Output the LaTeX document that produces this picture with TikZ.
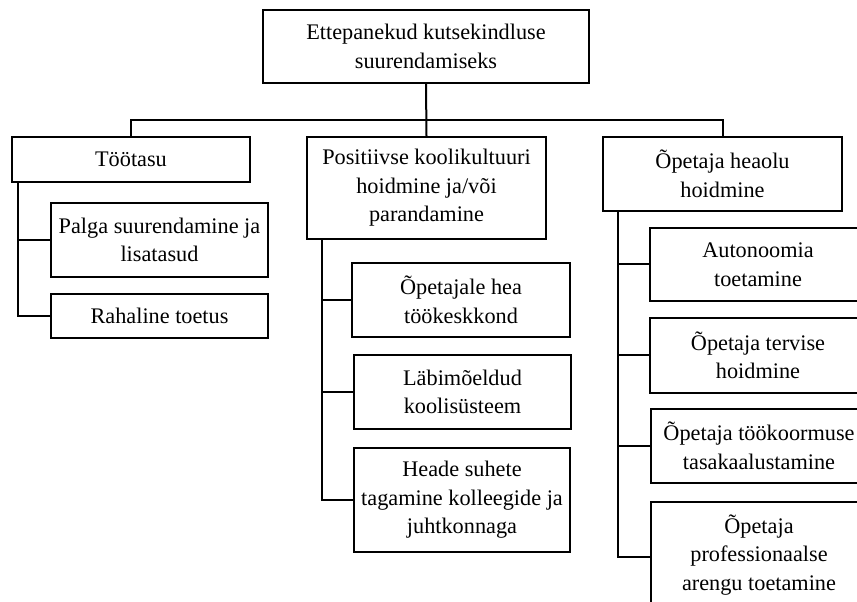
\documentclass[tikz,border=0pt]{standalone}
\usepackage{fontspec}
\setmainfont{Liberation Serif}
\begin{document}
\begin{tikzpicture}[x=0.75pt,y=-0.75pt,
  box/.style={draw, line width=1.5pt, align=center, inner sep=0pt,
    font=\fontsize{16.7}{21.4}\selectfont},
  link/.style={line width=1.5pt}]
\useasboundingbox (0,0) rectangle (857,602);
\clip (0,0) rectangle (857,602);
% top
\node[box, minimum width=244.5pt, minimum height=54.75pt] (top) at (426,46.5) {Ettepanekud kutsekindluse\\suurendamiseks};
% level 1
\node[box, minimum width=178.5pt, minimum height=33.75pt] (t1) at (131,159.5) {Töötasu};
\node[box, minimum width=179.25pt, minimum height=76.5pt] (t2) at (426.5,188) {Positiivse koolikultuuri\\hoidmine ja/või\\parandamine};
\node[box, minimum width=179.25pt, minimum height=55.5pt] (t3) at (722.5,174) {Õpetaja heaolu\\hoidmine};
% level 2 left
\node[box, minimum width=162.75pt, minimum height=55.5pt] (a1) at (159.5,240) {Palga suurendamine ja\\lisatasud};
\node[box, minimum width=162.75pt, minimum height=33pt] (a2) at (159.5,316) {Rahaline toetus};
% level 2 middle
\node[box, minimum width=163.5pt, minimum height=55.5pt] (b1) at (461,300) {Õpetajale hea\\töökeskkond};
\node[box, minimum width=162.75pt, minimum height=54.75pt] (b2) at (462.5,392) {Läbimõeldud\\koolisüsteem};
\node[box, minimum width=162pt, minimum height=78pt] (b3) at (462,500) {Heade suhete\\tagamine kolleegide ja\\juhtkonnaga};
% level 2 right
\node[box, minimum width=162pt, minimum height=54.75pt] (c1) at (758,264.5) {Autonoomia\\toetamine};
\node[box, minimum width=162pt, minimum height=56.25pt] (c2) at (758,355.5) {Õpetaja tervise\\hoidmine};
\node[box, minimum width=162pt, minimum height=55.5pt] (c3) at (759,446) {Õpetaja töökoormuse\\tasakaalustamine};
\node[box, minimum width=162pt, minimum height=79.5pt] (c4) at (759,555) {Õpetaja\\professionaalse\\arengu toetamine};
% connectors level 1
\coordinate (bus) at (426,120);
\draw[link] (top.south) -- (t2.north);
\draw[link] (t1.north) |- (bus) -| (t3.north);
% left branch
\coordinate (v1) at ([xshift=5.25pt]t1.south west);
\draw[link] (v1) |- (a2.west);
\draw[link] (a1.west) -- (a1.west -| v1);
% middle branch
\coordinate (v2) at ([xshift=12pt]t2.south west);
\draw[link] (v2) |- (b3.west);
\draw[link] (b1.west) -- (b1.west -| v2);
\draw[link] (b2.west) -- (b2.west -| v2);
% right branch
\coordinate (v3) at ([xshift=12pt]t3.south west);
\draw[link] (v3) |- ([yshift=-1.5pt]c4.west);
\draw[link] (c1.west) -- (c1.west -| v3);
\draw[link] (c2.west) -- (c2.west -| v3);
\draw[link] (c3.west) -- (c3.west -| v3);
\end{tikzpicture}
\end{document}
